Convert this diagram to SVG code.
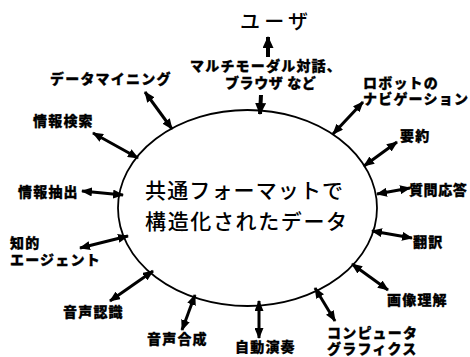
<svg xmlns="http://www.w3.org/2000/svg" width="470" height="357" viewBox="0 0 470 357">
<style>
.lbl{font-family:"Noto Sans CJK JP","Noto Sans CJK SC",sans-serif;font-weight:900;font-size:14px;letter-spacing:1.2px;fill:#000;stroke:#000;stroke-width:0.3}
.ctr{font-family:"Noto Sans CJK JP","Noto Sans CJK SC",sans-serif;font-weight:500;font-size:21px;fill:#000}
.arr{stroke:#000;stroke-width:3;fill:none;marker-start:url(#ah);marker-end:url(#ah)}
.one{stroke:#000;stroke-width:4;fill:none;marker-end:url(#big)}
</style>
<defs>
<marker id="ah" viewBox="0 0 11 9" refX="10" refY="4.5" markerWidth="11" markerHeight="9" markerUnits="userSpaceOnUse" orient="auto-start-reverse">
<path d="M0,0 L11,4.5 L0,9 z" fill="#000"/>
</marker>
<marker id="big" viewBox="0 0 12 11" refX="11" refY="5.5" markerWidth="12" markerHeight="11" markerUnits="userSpaceOnUse" orient="auto">
<path d="M0,0 L12,5.5 L0,11 z" fill="#000"/>
</marker>
</defs>
<rect width="470" height="357" fill="#fff"/>
<g id="center">
<ellipse cx="247.5" cy="208" rx="129.5" ry="98" fill="none" stroke="#000" stroke-width="1.8"/>
<text class="ctr" x="145" y="198" textLength="198" lengthAdjust="spacing">共通フォーマットで</text>
<text class="ctr" x="145" y="229" textLength="202" lengthAdjust="spacing">構造化されたデータ</text>
</g>
<g id="connectors">
<line class="arr" x1="145" y1="92" x2="172" y2="129"/>
<line class="arr" x1="93" y1="133" x2="138" y2="158"/>
<line class="arr" x1="82" y1="191" x2="123" y2="195"/>
<line class="arr" x1="80" y1="248" x2="128" y2="236"/>
<line class="arr" x1="110" y1="301" x2="153" y2="271"/>
<line class="arr" x1="182" y1="330" x2="195" y2="295"/>
<line class="arr" x1="259" y1="338" x2="259" y2="301"/>
<line class="arr" x1="335" y1="321" x2="315" y2="288"/>
<line class="arr" x1="388" y1="290" x2="352" y2="264"/>
<line class="arr" x1="412" y1="238" x2="372" y2="231"/>
<line class="arr" x1="410" y1="188" x2="377" y2="194"/>
<line class="arr" x1="397" y1="142" x2="364" y2="166"/>
<line class="arr" x1="363" y1="102" x2="333" y2="134"/>
<line class="one" x1="268" y1="57" x2="268" y2="37"/>
<line class="one" x1="261" y1="95" x2="260" y2="114"/>
</g>
<g id="user"><text x="240" y="29" textLength="68" lengthAdjust="spacing" style="font-family:'Noto Sans CJK JP',sans-serif;font-weight:500;font-size:20px">ユーザ</text></g>
<g id="multimodal">
<text class="lbl" x="190" y="71">マルチモーダル対話、</text>
<text class="lbl" x="225" y="88" textLength="92" lengthAdjust="spacing">ブラウザ など</text>
</g>
<g id="datamining"><text class="lbl" x="50" y="84">データマイニング</text></g>
<g id="search"><text class="lbl" x="33" y="126">情報検索</text></g>
<g id="extract"><text class="lbl" x="18" y="197">情報抽出</text></g>
<g id="agent">
<text class="lbl" x="10" y="248">知的</text>
<text class="lbl" x="10" y="265">エージェント</text>
</g>
<g id="speechrec"><text class="lbl" x="63" y="317">音声認識</text></g>
<g id="speechsyn"><text class="lbl" x="147" y="344">音声合成</text></g>
<g id="autoplay"><text class="lbl" x="235" y="352">自動演奏</text></g>
<g id="cg">
<text class="lbl" x="327" y="338">コンピュータ</text>
<text class="lbl" x="327" y="354">グラフィクス</text>
</g>
<g id="image"><text class="lbl" x="387" y="305">画像理解</text></g>
<g id="translate"><text class="lbl" x="413" y="247">翻訳</text></g>
<g id="qa"><text class="lbl" x="409" y="195" style="letter-spacing:0.6px">質問応答</text></g>
<g id="summary"><text class="lbl" x="400" y="141">要約</text></g>
<g id="robot">
<text class="lbl" x="363" y="88">ロボットの</text>
<text class="lbl" x="363" y="104">ナビゲーション</text>
</g>
</svg>
